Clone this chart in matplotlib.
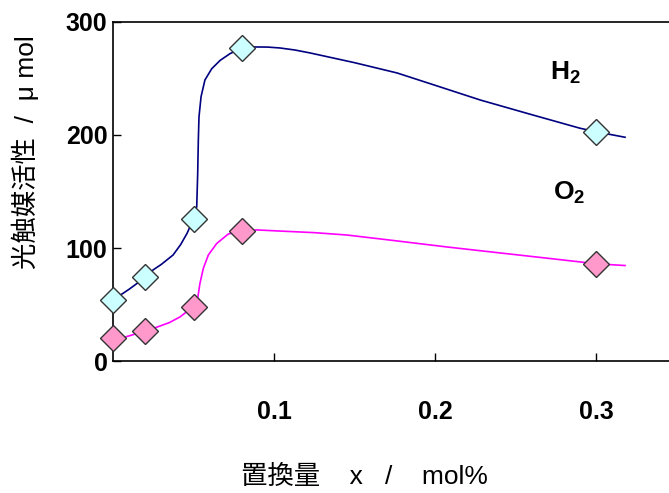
import matplotlib.pyplot as plt

plt.rcParams['font.family'] = ['Liberation Sans', 'Noto Sans CJK JP', 'DejaVu Sans']
plt.rcParams['mathtext.fontset'] = 'custom'
plt.rcParams['mathtext.rm'] = 'Liberation Sans'
plt.rcParams['mathtext.bf'] = 'Liberation Sans:bold'

# measured points (x = substitution amount, y = activity / umol)
x_pts = [0.0, 0.02, 0.05, 0.08, 0.30]
h2_pts = [54, 74, 126, 277, 203]
o2_pts = [20, 26.5, 48, 115, 86]

# smooth curves
h2_curve_x = [0.0, 0.01, 0.02, 0.0248, 0.03, 0.0373, 0.042, 0.046, 0.05, 0.052, 0.0526, 0.053,
              0.0534, 0.0547, 0.0571, 0.0613, 0.0665, 0.0727, 0.0801, 0.0882, 0.096, 0.1037,
              0.113, 0.1224, 0.15, 0.1764, 0.2, 0.228, 0.26, 0.29, 0.3006, 0.318]
h2_curve_y = [54, 63.5, 74, 80.5, 85.5, 93.8, 103, 113, 126, 136.6, 166, 195.6,
              216, 234, 248.7, 258.6, 266, 272, 277, 277.9, 277.8, 277,
              275.2, 272.6, 264, 254.9, 244, 231, 218, 206, 202.7, 198]
o2_curve_x = [0.0, 0.0075, 0.0199, 0.0273, 0.035, 0.0416, 0.0497, 0.0526, 0.054, 0.0561,
              0.0592, 0.0644, 0.0716, 0.0801, 0.0894, 0.1037, 0.125, 0.1453, 0.175, 0.2075,
              0.24, 0.2696, 0.3006, 0.318]
o2_curve_y = [20, 21.2, 26.5, 30, 34, 39, 48, 55.5, 68.7, 82,
              93.8, 104, 112.4, 115, 116, 115, 113.6, 111.5, 106.5, 100.9,
              95.7, 91, 86, 84.5]

xticks = [0.1, 0.2, 0.3]
yticks = [0, 100, 200, 300]

fig = plt.figure(figsize=(6.69, 4.93), dpi=100)
ax = fig.add_axes([0.1689, 0.2677, 0.8311, 0.6877])

ax.plot(h2_curve_x, h2_curve_y, color='#000080', lw=1.2, zorder=2)
ax.plot(o2_curve_x, o2_curve_y, color='#FF00FF', lw=1.2, zorder=2)
ax.plot(x_pts, h2_pts, ls='none', marker='D', ms=13, mfc='#CCFFFF', mec='#333333', mew=1, zorder=3, clip_on=False)
ax.plot(x_pts, o2_pts, ls='none', marker='D', ms=13, mfc='#FF99CC', mec='#333333', mew=1, zorder=3, clip_on=False)

ax.set_xlim(0, 0.3453)
ax.set_ylim(0, 300)
ax.set_xticks(xticks)
ax.set_yticks(yticks)
ax.set_xticklabels([str(t) for t in xticks], fontsize=18, fontweight='bold')
ax.set_yticklabels([str(t) for t in yticks], fontsize=18, fontweight='bold')
ax.tick_params(axis='x', direction='in', length=6, width=1, pad=28)
ax.tick_params(axis='y', direction='in', length=6, width=1, pad=4)
ax.spines['right'].set_visible(False)
for s in ['left', 'bottom', 'top']:
    ax.spines[s].set_linewidth(1.2)

ax.text(0.281, 255, r'$\mathbf{H_2}$', fontsize=19, ha='center', va='center')
ax.text(0.283, 149, r'$\mathbf{O_2}$', fontsize=19, ha='center', va='center')

fig.text(25 / 669, 1 - 152 / 493, '光触媒活性  /  μ mol', rotation=90, fontsize=19,
         ha='center', va='center')
fig.text(364 / 669, 1 - 477 / 493, '置換量    x   /    mol%', fontsize=19,
         ha='center', va='center')

fig.savefig('out.png', dpi=100)
